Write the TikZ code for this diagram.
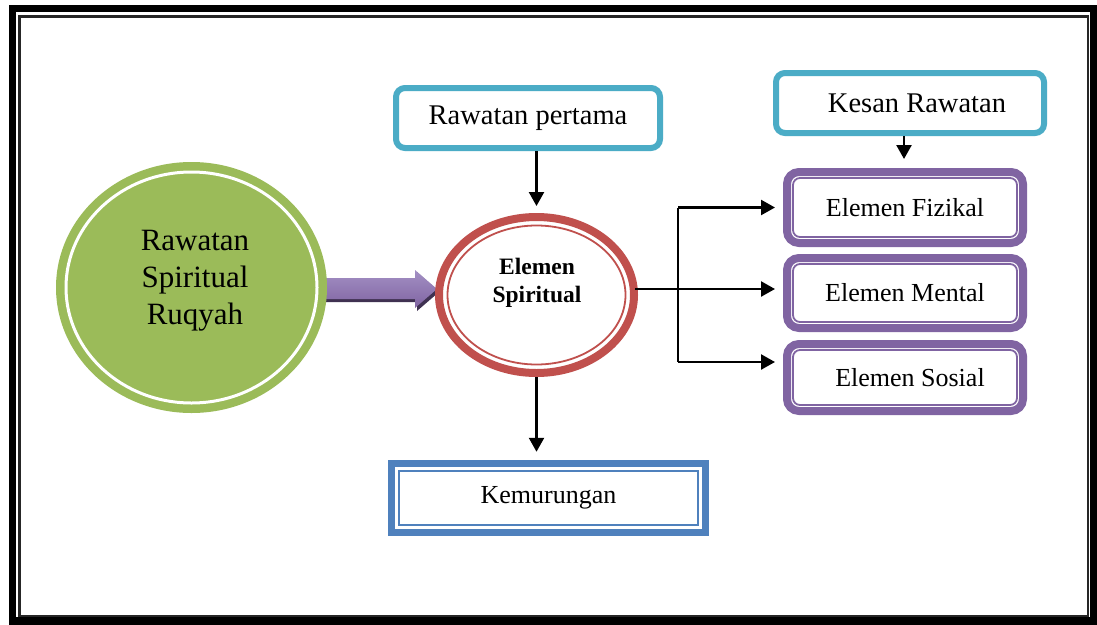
\documentclass[tikz,border=0pt]{standalone}
\usepackage{fontspec}
\setmainfont{Liberation Serif}
\usetikzlibrary{shapes.geometric,arrows.meta,calc}
\definecolor{ogreen}{HTML}{9BBB59}
\definecolor{ored}{HTML}{C0504D}
\definecolor{oteal}{HTML}{4BACC6}
\definecolor{opurple}{HTML}{8064A2}
\definecolor{oblue}{HTML}{4F81BD}
\definecolor{pdark}{HTML}{3F3151}
\definecolor{plight}{HTML}{A390C4}
\tikzset{
  conn/.style={line width=2.4pt, black},
  tip/.style={-{Triangle[length=14pt,width=15pt]}},
  tealbox/.style={draw=oteal, line width=6pt, rounded corners=9pt, fill=white, inner sep=0pt, font=\fontsize{28.5}{32}\selectfont},
  purplebox/.style={draw=opurple, line width=8pt, rounded corners=12pt, fill=white, inner sep=0pt, minimum width=236pt, font=\fontsize{26}{30}\selectfont},
  bluebox/.style={draw=oblue, line width=7.5pt, fill=white, inner sep=0pt, font=\fontsize{26}{30}\selectfont},
}
\newcommand{\insetframe}[4]{%
  \draw[#3, line width=1.8pt, rounded corners=#4]
    ([shift={(#2pt,-#2pt)}]#1.north west) rectangle ([shift={(-#2pt,#2pt)}]#1.south east);}
\begin{document}
\begin{tikzpicture}[x=1pt,y=-1pt]
\useasboundingbox (0,0) rectangle (1097,624);
\fill[white] (0,0) rectangle (1097,624);
% page frame
\draw[black, line width=7.5pt] (12.5,8.5) rectangle (1094,621);
\draw[black!85, line width=2.5pt] (19.5,16.5) rectangle (1088,616);

% purple block arrow (drawn first, under the circle)
\coordinate (as) at (326,289);
\coordinate (ae) at (437,289);
\fill[pdark] ($(as)+(0,-9)$) -- ($(ae)+(-20,-9)$) -- ($(ae)+(-20,-17)$) -- ($(ae)+(2,3)$) -- ($(ae)+(-20,22)$) -- ($(ae)+(-20,13)$) -- ($(as)+(0,13)$) -- cycle;
\shade[top color=plight, bottom color=opurple] ($(as)+(0,-11)$) -- ($(ae)+(-22,-11)$) -- ($(ae)+(-22,-19)$) -- (ae) -- ($(ae)+(-22,19)$) -- ($(ae)+(-22,10)$) -- ($(as)+(0,10)$) -- cycle;

% green circle
\node[ellipse, fill=ogreen, minimum width=271pt, minimum height=251pt, inner sep=0pt] (gc) at (191.5,287.5) {};
\draw[white, line width=3pt] (gc.center) ellipse [x radius=125.5, y radius=115.5];
\node[align=center, font=\fontsize{31}{37}\selectfont] (gct) at (195,281) {Rawatan\\Spiritual\\Ruqyah};

% red ellipse
\node[ellipse, draw=ored, line width=8pt, fill=white, minimum width=195pt, minimum height=156pt, inner sep=0pt] (es) at (536.5,295) {};
\draw[ored, line width=1.8pt] (es.center) ellipse [x radius=89, y radius=69.5];
\node[align=center, font=\bfseries\fontsize{23.5}{28}\selectfont] (est) at (537,283) {Elemen\\Spiritual};

% boxes
\node[tealbox, minimum width=264pt, minimum height=60pt] (rp) at (528,118) {Rawatan pertama};
\node[tealbox, minimum width=268pt, minimum height=60pt] (kr) at (910,103) {\hspace*{14pt}Kesan Rawatan};

\node[purplebox, minimum height=71pt] (fiz) at (905,207.5) {Elemen Fizikal};
\node[purplebox, minimum height=70pt] (men) at (905,293) {Elemen Mental};
\node[purplebox, minimum height=67pt] (sos) at (905,377.5) {\hspace*{10pt}Elemen Sosial};
\insetframe{fiz}{10}{opurple}{7pt}
\insetframe{men}{10}{opurple}{7pt}
\insetframe{sos}{10}{opurple}{7pt}

\node[bluebox, minimum width=314pt, minimum height=69pt] (kem) at (548.5,498) {Kemurungan};
\insetframe{kem}{11.5}{oblue}{0pt}

% connectors
\draw[conn, tip, shorten >=7pt] (rp.south -| es.north) -- (es.north);
\draw[conn, tip] (kr.south -| 904,0) -- (904,159) coordinate (krend);
\draw[conn, tip, shorten >=8pt] (es.south) -- (kem.north -| es.south);

\coordinate (fork) at (678,289);
\draw[conn] ($(es.east)+(-3,-6)$) -- (fork);
\draw[conn] (fork |- fiz.west) -- (fork |- 0,362);
\draw[conn, tip, shorten >=8pt] (fork |- fiz.west) -- (fiz.west);
\draw[conn, tip, shorten >=8pt] (fork) -- (men.west |- fork);
\draw[conn, tip, shorten >=8pt] (fork |- 0,362) -- (sos.west |- 0,362);
\end{tikzpicture}
\end{document}
